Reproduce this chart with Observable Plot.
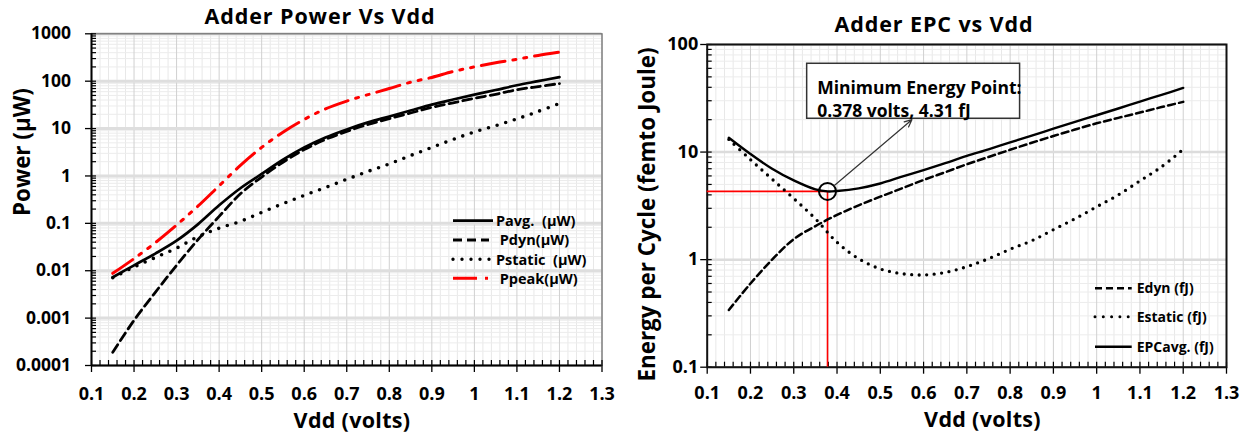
<!DOCTYPE html>
<html>
<head>
<meta charset="utf-8">
<script src="https://cdn.jsdelivr.net/npm/d3@7"></script>
<script src="https://cdn.jsdelivr.net/npm/@observablehq/plot@0.6"></script>
<style>
  body { margin: 0; background: #fff; }
  #wrap { position: relative; width: 1250px; height: 436px; overflow: hidden; background: #fff; }
  #wrap svg { position: absolute; top: 0; }
  #wrap text { white-space: pre; }
</style>
</head>
<body>
<div id="wrap"></div>
<script>
// ---- data: supply voltage sweep (volts) ----
const vdd = [0.15, 0.2, 0.25, 0.3, 0.35, 0.4, 0.45, 0.5, 0.55, 0.6, 0.65, 0.7,
             0.75, 0.8, 0.85, 0.9, 0.95, 1.0, 1.05, 1.1, 1.15, 1.2];

// adder power (µW)
const pAvg    = [0.0073, 0.013, 0.023, 0.043, 0.095, 0.24, 0.55, 1.1, 2.2, 4.0, 6.5, 9.6,
                 13.5, 18, 24, 32, 41, 52, 65, 82, 100, 122];
const pDyn    = [0.00019, 0.0009, 0.0035, 0.013, 0.045, 0.14, 0.42, 0.95, 1.95, 3.6, 5.9, 8.7,
                 12.2, 16.2, 21.3, 28, 35, 43.5, 53, 66, 77, 89];
const pStatic = [0.0071, 0.012, 0.019, 0.03, 0.052, 0.079, 0.11, 0.17, 0.26, 0.39, 0.57, 0.85,
                 1.25, 1.8, 2.7, 4.0, 5.9, 8.5, 11.5, 16, 23, 34];
const pPeak   = [0.0088, 0.018, 0.039, 0.092, 0.23, 0.62, 1.67, 4.0, 8.4, 15.6, 26, 38,
                 52, 70, 95, 120, 160, 200, 245, 290, 350, 410];

// adder energy per cycle (fJ)
const eDyn    = [0.34, 0.6, 1.0, 1.55, 2.05, 2.6, 3.2, 3.85, 4.6, 5.5, 6.5, 7.7,
                 9.0, 10.5, 12.2, 14.1, 16.2, 18.5, 20.8, 23.3, 26.2, 29.3];
const eStatic = [13.1, 8.5, 5.6, 3.7, 2.4, 1.45, 1.02, 0.82, 0.74, 0.72, 0.76, 0.86,
                 1.02, 1.25, 1.5, 1.9, 2.4, 3.1, 4.0, 5.4, 7.3, 10.6];
const epcAvg  = [13.6, 9.6, 7.0, 5.45, 4.5, 4.35, 4.6, 5.1, 5.9, 6.8, 7.9, 9.2,
                 10.6, 12.3, 14.2, 16.5, 19.1, 22.0, 25.4, 29.5, 34.0, 39.5];

// minimum energy point
const mepVdd = 0.378;
const mepEnergy = 4.31;

// axis ticks and their labels
const xTicks = [0.1, 0.2, 0.3, 0.4, 0.5, 0.6, 0.7, 0.8, 0.9, 1.0, 1.1, 1.2, 1.3];
const xTickLabels = ["0.1", "0.2", "0.3", "0.4", "0.5", "0.6", "0.7", "0.8", "0.9", "1", "1.1", "1.2", "1.3"];
const powerTicks = [0.0001, 0.001, 0.01, 0.1, 1, 10, 100, 1000];
const powerTickLabels = ["0.0001", "0.001", "0.01", "0.1", "1", "10", "100", "1000"];
const energyTicks = [0.1, 1, 10, 100];
const energyTickLabels = ["0.1", "1", "10", "100"];

// ---- helpers ----
const FONT = "'Open Sans', 'DejaVu Sans', sans-serif";
const RED = "#ff0000";

const rows = (values) => vdd.map((v, i) => ({vdd: v, value: values[i]}));
const labeler = (ticks, labels) => {
  const m = new Map(ticks.map((t, i) => [t, labels[i]]));
  return (d) => m.get(d);
};
// minor x positions every 0.02 V between the major ticks
const xMinor = d3.range(0, 61).filter((i) => i % 5 !== 0).map((i) => +(0.1 + i * 0.02).toFixed(2));
const xAllTicks = d3.range(0, 61).map((i) => +(0.1 + i * 0.02).toFixed(2));
// minor log positions 2..9 of every decade
function minorLog(lo, hi) {
  const out = [];
  for (let e = Math.round(Math.log10(lo)); e < Math.round(Math.log10(hi)); e++)
    for (let k = 2; k <= 9; k++) out.push(+(k * Math.pow(10, e)).toPrecision(2));
  return out;
}

function addText(svg, x, y, text, {size = 22, anchor = "middle", rotate = false, spacing = 0} = {}) {
  const t = d3.select(svg).append("text")
    .attr("x", x).attr("y", y)
    .attr("text-anchor", anchor)
    .attr("font-family", FONT)
    .attr("font-size", size)
    .attr("font-weight", "bold")
    .attr("letter-spacing", spacing)
    .attr("fill", "#000")
    .text(text);
  if (rotate) t.attr("transform", `rotate(-90 ${x} ${y})`);
  return t;
}

function addLegend(svg, entries, {x1, x2, textX, size}) {
  const g = d3.select(svg).append("g");
  for (const e of entries) {
    g.append("line")
      .attr("x1", x1).attr("x2", e.x2 ?? x2).attr("y1", e.y).attr("y2", e.y)
      .attr("stroke", e.stroke).attr("stroke-width", e.width)
      .attr("stroke-dasharray", e.dash ?? null)
      .attr("stroke-linecap", e.cap ?? "butt");
    g.append("text")
      .attr("x", e.textX ?? textX).attr("y", e.y).attr("dy", "0.36em")
      .attr("text-anchor", "start")
      .attr("font-family", FONT).attr("font-size", size).attr("font-weight", "bold")
      .attr("fill", "#000")
      .text(e.label);
  }
}

// line styles of the power chart
const style = {
  avg:  {stroke: "#000", strokeWidth: 2.7},
  dyn:  {stroke: "#000", strokeWidth: 2.8, strokeDasharray: "9,5"},
  stat: {stroke: "#000", strokeWidth: 3.6, strokeDasharray: "0,9", strokeLinecap: "round"},
  peak: {stroke: RED, strokeWidth: 3, strokeDasharray: "24,8,3,8,3,8"}
};

// ---- left chart: power vs Vdd ----
const L = {width: 620, height: 436, left: 91, right: 18.5, top: 33.3, bottom: 71};
const LW = L.width - L.left - L.right, LH = L.height - L.top - L.bottom;

const powerChart = Plot.plot({
  width: L.width, height: L.height,
  marginLeft: L.left, marginRight: L.right, marginTop: L.top, marginBottom: L.bottom,
  style: {fontFamily: FONT, background: "transparent", color: "#000", overflow: "visible"},
  x: {domain: [0.1, 1.3]},
  y: {type: "log", domain: [0.0001, 1000]},
  marks: [
    Plot.ruleX(xMinor, {stroke: "#e8e8e8", strokeWidth: 1}),
    Plot.ruleY(minorLog(0.0001, 1000), {stroke: "#ececec", strokeWidth: 1}),
    Plot.ruleX(xTicks, {stroke: "#d0d0d0", strokeWidth: 1}),
    Plot.ruleY(powerTicks, {stroke: "#dedede", strokeWidth: 3}),
    Plot.frame({stroke: "#6a6a6a", strokeWidth: 1.2}),
    // inward ticks
    Plot.ruleX(xAllTicks, {insetTop: LH - 5, stroke: "#000", strokeWidth: 1.2}),
    Plot.ruleY([...powerTicks, ...minorLog(0.0001, 1000)], {insetRight: LW - 5, stroke: "#000", strokeWidth: 1.2}),
    Plot.axisX({ticks: xTicks, tickFormat: labeler(xTicks, xTickLabels), tickSize: 7, tickPadding: 15,
                fontSize: 18, fontWeight: "bold", label: null, strokeWidth: 1.3}),
    Plot.axisY({ticks: powerTicks, tickFormat: labeler(powerTicks, powerTickLabels), tickSize: 6, tickPadding: 14.5,
                fontSize: 17.5, fontWeight: "bold", label: null, strokeWidth: 1.3}),
    Plot.ruleX([0.1], {stroke: "#000", strokeWidth: 2}),
    Plot.ruleY([0.0001], {stroke: "#000", strokeWidth: 2}),
    // series
    Plot.line(rows(pPeak), {x: "vdd", y: "value", curve: "catmull-rom", ...style.peak}),
    Plot.line(rows(pStatic), {x: "vdd", y: "value", curve: "catmull-rom", ...style.stat}),
    Plot.line(rows(pDyn), {x: "vdd", y: "value", curve: "catmull-rom", ...style.dyn}),
    Plot.line(rows(pAvg), {x: "vdd", y: "value", curve: "catmull-rom", ...style.avg})
  ]
});
powerChart.style.left = "0px";
addText(powerChart, 320, 23.5, "Adder Power Vs Vdd", {size: 21.5, spacing: 0.9});
addText(powerChart, 352, 428, "Vdd (volts)", {size: 21.5, spacing: 0.3});
addText(powerChart, 30, 152, "Power (µW)", {size: 22.4, rotate: true});
addLegend(powerChart, [
  {y: 220.7, label: "Pavg.  (µW)", stroke: "#000", width: 2.8},
  {y: 240, label: " Pdyn(µW)", stroke: "#000", width: 3, dash: "9,5", x2: 489},
  {y: 259.3, label: "Pstatic  (µW)", stroke: "#000", width: 3.4, dash: "0,9", cap: "round", x2: 492},
  {y: 278.3, label: " Ppeak(µW)", stroke: RED, width: 3, dash: "24,8,3,8", x2: 489}
], {x1: 453, x2: 493, textX: 496, size: 14.5});
document.getElementById("wrap").appendChild(powerChart);

// ---- right chart: energy per cycle vs Vdd ----
const R = {width: 630, height: 436, left: 86.7, right: 24, top: 44, bottom: 69.3};
const RW = R.width - R.left - R.right, RH = R.height - R.top - R.bottom;

const mep = [{vdd: mepVdd, value: mepEnergy}];
const epcRows = [...rows(epcAvg), ...mep].sort((a, b) => a.vdd - b.vdd);
// call-out box and arrow tip, in (volts, fJ)
const note = {x1: 0.331, x2: 0.823, y1: 20.4, y2: 66.2, tipVdd: 0.573, tipEnergy: 20,
              text: "Minimum Energy Point:\n" + `${mepVdd} volts, ${mepEnergy} fJ`};

const energyChart = Plot.plot({
  width: R.width, height: R.height,
  marginLeft: R.left, marginRight: R.right, marginTop: R.top, marginBottom: R.bottom,
  style: {fontFamily: FONT, background: "transparent", color: "#000", overflow: "visible"},
  x: {domain: [0.1, 1.3]},
  y: {type: "log", domain: [0.1, 100]},
  marks: [
    Plot.ruleX(xMinor, {stroke: "#e8e8e8", strokeWidth: 1}),
    Plot.ruleY(minorLog(0.1, 100), {stroke: "#ececec", strokeWidth: 1}),
    Plot.ruleX(xTicks, {stroke: "#d0d0d0", strokeWidth: 1}),
    Plot.ruleY(energyTicks, {stroke: "#dcdcdc", strokeWidth: 2.5}),
    // inward ticks
    Plot.ruleX(xAllTicks, {insetTop: RH - 5, stroke: "#000", strokeWidth: 1.2}),
    Plot.ruleY([...energyTicks, ...minorLog(0.1, 100)], {insetRight: RW - 5, stroke: "#000", strokeWidth: 1.2}),
    Plot.axisX({ticks: xTicks, tickFormat: labeler(xTicks, xTickLabels), tickSize: 7, tickPadding: 12,
                fontSize: 18, fontWeight: "bold", label: null, strokeWidth: 1.3}),
    Plot.axisY({ticks: energyTicks, tickFormat: labeler(energyTicks, energyTickLabels), tickSize: 6.5, tickPadding: 2.5,
                fontSize: 18, fontWeight: "bold", label: null, strokeWidth: 1.3}),
    Plot.frame({stroke: "#111", strokeWidth: 2}),
    // guide lines to the minimum energy point
    Plot.ruleY(mep, {y: "value", x1: 0.1, x2: "vdd", stroke: RED, strokeWidth: 1.6}),
    Plot.ruleX(mep, {x: "vdd", y1: 0.1, y2: "value", stroke: RED, strokeWidth: 1.6}),
    // series
    Plot.line(rows(eStatic), {x: "vdd", y: "value", curve: "catmull-rom",
                              stroke: "#000", strokeWidth: 3.3, strokeDasharray: "0,7.5", strokeLinecap: "round"}),
    Plot.line(rows(eDyn), {x: "vdd", y: "value", curve: "catmull-rom",
                           stroke: "#000", strokeWidth: 2.5, strokeDasharray: "7,4"}),
    Plot.line(epcRows, {x: "vdd", y: "value", curve: "catmull-rom", stroke: "#000", strokeWidth: 2.4}),
    Plot.dot(mep, {x: "vdd", y: "value", r: 8.5, stroke: "#000", strokeWidth: 2, fill: "none"}),
    // call-out
    Plot.arrow([note], {x1: () => mepVdd, y1: () => mepEnergy, x2: "tipVdd", y2: "tipEnergy",
                        insetStart: 9, headLength: 10, headAngle: 50, stroke: "#333", strokeWidth: 1.2}),
    Plot.rect([note], {x1: "x1", x2: "x2", y1: "y1", y2: "y2", fill: "#fff", stroke: "#333", strokeWidth: 1.5}),
    Plot.text([note], {x: "x1", y: "y2", text: "text", textAnchor: "start", lineAnchor: "top",
                       dx: 10, dy: 14, lineHeight: 1.3, fontSize: 17.5, fontWeight: "bold", fill: "#000"})
  ]
});
energyChart.style.left = "620px";
addText(energyChart, 314, 32, "Adder EPC vs Vdd", {size: 21.5, spacing: 0.9});
addText(energyChart, 362.5, 427, "Vdd (volts)", {size: 21.5, spacing: 0.3});
addText(energyChart, 35, 214.5, "Energy per Cycle (femto Joule)", {size: 22.4, rotate: true});
addLegend(energyChart, [
  {y: 288.3, label: "Edyn (fJ)", stroke: "#000", width: 2.6, dash: "7,4"},
  {y: 316.7, label: "Estatic (fJ)", stroke: "#000", width: 3, dash: "0,8.3", cap: "round"},
  {y: 346.7, label: "EPCavg. (fJ)", stroke: "#000", width: 2.5}
], {x1: 475, x2: 511.7, textX: 516.7, size: 14});
document.getElementById("wrap").appendChild(energyChart);
</script>
</body>
</html>
